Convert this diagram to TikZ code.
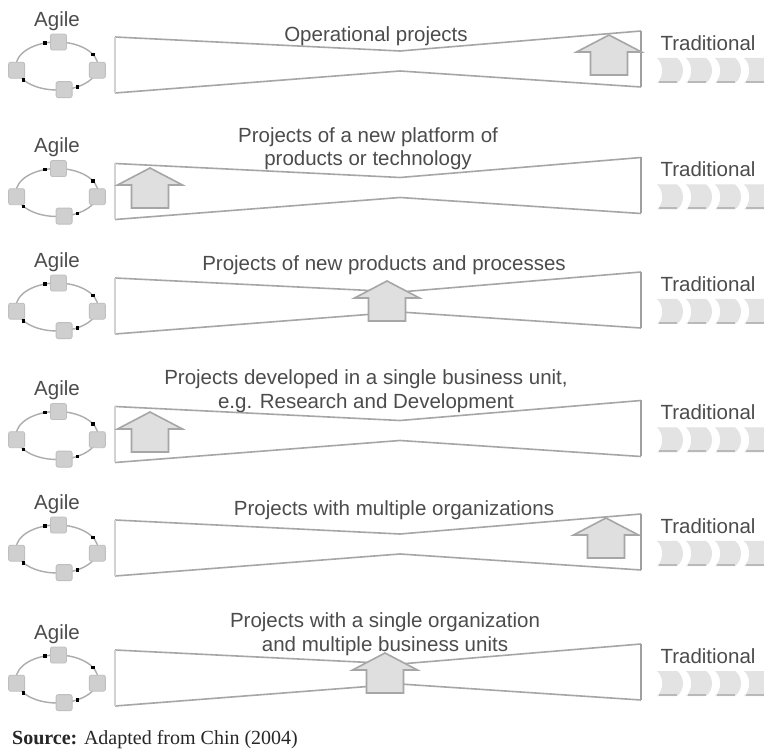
\documentclass[tikz,border=0pt]{standalone}
\usepackage{fontspec}
\setmainfont{Liberation Serif}
\setsansfont{Liberation Sans}
\usetikzlibrary{positioning}

\tikzset{
  lbl/.style={font=\sffamily\fontsize{20.5}{23.5}\selectfont, text=black!70, inner sep=0pt, align=center},
  bowline/.style={draw=gray!70, line width=1.6pt},
  uparrow/.style={fill=gray!25, draw=gray!70, line width=1.6pt, line join=miter},
  cyclebox/.style={fill=gray!38, draw=gray!50, line width=0.8pt, rounded corners=2pt, minimum size=16pt, inner sep=0pt},
  cycledot/.style={fill=black, minimum size=3.5pt, inner sep=0pt},
  chev/.style={fill=gray!22},
}

\begin{document}
\begin{tikzpicture}[x=1pt,y=-1pt]
\clip (0,0) rectangle (764,751);
\fill[white] (0,0) rectangle (764,751);
\foreach \i/\c/\ax/\ay/\tx/\ty/\txt in {
  1/65/609/-30/376/-29/{Operational projects},
  2/191.5/150/-23.5/368/-43/{Projects of a new platform of\\products or technology},
  3/306/387/-25/384/-41/{Projects of new products and processes},
  4/434.5/150/-22.5/366/-43.5/{Projects developed in a single business unit,\\e.g. Research and Development},
  5/548/606/-30/394/-38/{Projects with multiple organizations},
  6/678/385/-25/385/-44/{Projects with a single organization\\and multiple business units}}
{
  % agile cycle
  \node[lbl] (agile\i) at (57,\c-44) {Agile};
  \draw[gray!65, line width=1.4pt] (57,\c+1) ellipse [x radius=41pt, y radius=24pt];
  \foreach \a [count=\k] in {88,-10,-80,190}
    \node[cyclebox] (cyc\i\k) at ([shift={(\a:41pt and 24pt)}]57,\c+1) {};
  \foreach \a [count=\k] in {107,28,215,-60}
    \node[cycledot] (dot\i\k) at ([shift={(\a:41pt and 24pt)}]57,\c+1) {};
  % bow tie
  \draw[bowline] (115,\c-28) -- (400,\c-14) -- (641,\c-34);
  \draw[bowline] (115,\c+28) -- (400,\c+6) -- (641,\c+22);
  \draw[gray!35, line width=2pt] (115,\c-28) -- (115,\c+28);
  \draw[gray!75, line width=1.4pt] (641,\c-34) -- (641,\c+22);
  % position arrow
  \draw[uparrow] (\ax,\c+\ay) -- ++(32.5,17) -- ++(-14,0) -- ++(0,23)
    -- ++(-37,0) -- ++(0,-23) -- ++(-14,0) -- cycle;
  \node[lbl] (proj\i) at (\tx,\c+\ty) {\txt};
  % traditional phases
  \node[lbl] (trad\i) at (708,\c-22) {Traditional};
  \foreach \k in {0,...,3}{
    \pgfmathsetmacro\xx{657+29*\k}
    \fill[chev] (\xx,\c-7) -- ++(20,0) .. controls +(8,6) and +(8,-6) .. ++(0,25)
      -- ++(-20,0) .. controls +(7,-6) and +(7,6) .. ++(0,-25) -- cycle;
    \draw[gray!55, line width=2pt] (\xx+2,\c+17) -- ++(18,0);
  }
}
\node[anchor=west, font=\fontsize{20}{24}\selectfont, text=black!85, inner sep=0pt]
  (src) at (12,740) {\textbf{Source:} Adapted from Chin (2004)};
\end{tikzpicture}
\end{document}
